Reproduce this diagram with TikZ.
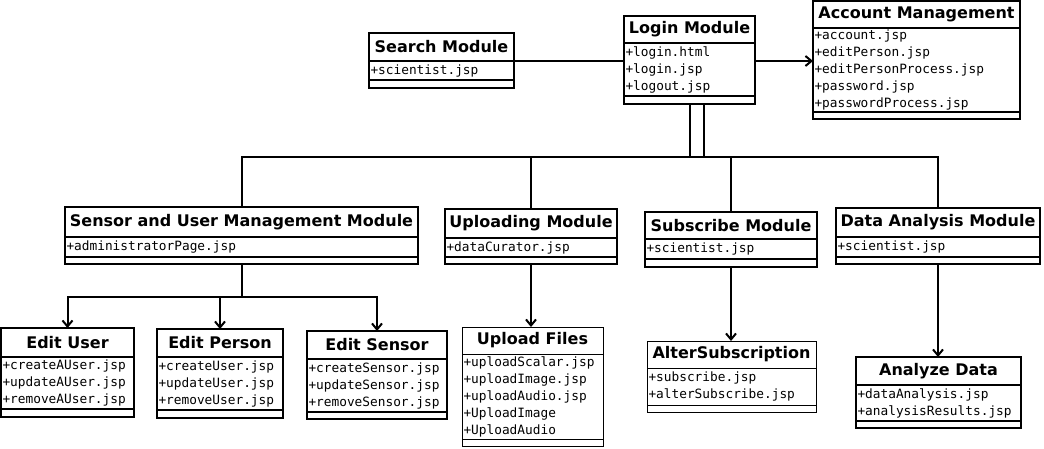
\documentclass[tikz,border=0pt]{standalone}
\usepackage{fontspec}
\setmainfont{DejaVu Sans}
\setmonofont{DejaVu Sans Mono}
\usepackage{tikz}
\usetikzlibrary{arrows.meta,positioning,calc}
\tikzset{
  classname/.style={draw, line width=2.2pt, inner sep=0pt, outer sep=0pt, anchor=north west,
    minimum height=28pt, font=\bfseries\fontsize{16}{18}\selectfont},
  classattr/.style={draw, line width=2.2pt, inner xsep=1.5pt, inner ysep=0pt, outer sep=0pt,
    anchor=north, align=left, font=\ttfamily\fontsize{12.8}{17}\selectfont},
  classend/.style={draw, line width=2.2pt, inner sep=0pt, outer sep=0pt, anchor=north, minimum height=7pt},
  thinclass/.style={line width=1pt},
  link/.style={line width=2pt},
  arrowlink/.style={-{Straight Barb[length=6pt,width=10pt]}, line width=2pt}
}
\begin{document}
\begin{tikzpicture}[x=1pt,y=-1pt]
\useasboundingbox (0,0) rectangle (1044,448);

% Top row
\node[classname, minimum width=145pt] (search) at (369,33) {Search Module};
\node[classattr, text width=142pt, minimum height=19pt, below=0pt of search] (searchattr) {+scientist.jsp};
\node[classend, minimum width=145pt, minimum height=8pt, below=0pt of searchattr] (searchend) {};

\node[classname, minimum width=131pt, minimum height=27pt] (login) at (624,16) {Login Module};
\node[classattr, text width=128pt, minimum height=53pt, below=0pt of login] (loginattr) {+login.html\\+login.jsp\\+logout.jsp};
\node[classend, minimum width=131pt, minimum height=8pt, below=0pt of loginattr] (loginend) {};

\node[classname, minimum width=207pt, minimum height=27pt] (account) at (813,1) {Account Management};
\node[classattr, text width=204pt, minimum height=84pt, below=0pt of account] (accountattr) {+account.jsp\\+editPerson.jsp\\+editPersonProcess.jsp\\+password.jsp\\+passwordProcess.jsp};
\node[classend, minimum width=207pt, below=0pt of accountattr] (accountend) {};

% Module row
\node[classname, minimum width=353pt, minimum height=30pt] (sensor) at (65,207) {Sensor and User Management Module};
\node[classattr, text width=350pt, minimum height=20pt, below=0pt of sensor] (sensorattr) {+administratorPage.jsp};
\node[classend, minimum width=353pt, below=0pt of sensorattr] (sensorend) {};

\node[classname, minimum width=172pt, minimum height=29pt] (uploading) at (445,209) {Uploading Module};
\node[classattr, text width=169pt, minimum height=19pt, below=0pt of uploading] (uploadingattr) {+dataCurator.jsp};
\node[classend, minimum width=172pt, below=0pt of uploadingattr] (uploadingend) {};

\node[classname, minimum width=172pt, minimum height=27pt] (subscribe) at (645,212) {Subscribe Module};
\node[classattr, text width=169pt, minimum height=20pt, below=0pt of subscribe] (subscribeattr) {+scientist.jsp};
\node[classend, minimum width=172pt, minimum height=8pt, below=0pt of subscribeattr] (subscribeend) {};

\node[classname, minimum width=204pt, minimum height=29pt] (analysis) at (836,208) {Data Analysis Module};
\node[classattr, text width=201pt, minimum height=20pt, below=0pt of analysis] (analysisattr) {+scientist.jsp};
\node[classend, minimum width=204pt, below=0pt of analysisattr] (analysisend) {};

% Page row
\node[classname, minimum width=133pt, minimum height=29pt] (edituser) at (1,328) {Edit User};
\node[classattr, text width=130pt, minimum height=52pt, below=0pt of edituser] (edituserattr) {+createAUser.jsp\\+updateAUser.jsp\\+removeAUser.jsp};
\node[classend, minimum width=133pt, minimum height=8pt, below=0pt of edituserattr] (edituserend) {};

\node[classname, minimum width=126pt] (editperson) at (157,329) {Edit Person};
\node[classattr, text width=123pt, minimum height=53pt, below=0pt of editperson] (editpersonattr) {+createUser.jsp\\+updateUser.jsp\\+removeUser.jsp};
\node[classend, minimum width=126pt, minimum height=8pt, below=0pt of editpersonattr] (editpersonend) {};

\node[classname, minimum width=140pt] (editsensor) at (307,331) {Edit Sensor};
\node[classattr, text width=137pt, minimum height=53pt, below=0pt of editsensor] (editsensorattr) {+createSensor.jsp\\+updateSensor.jsp\\+removeSensor.jsp};
\node[classend, minimum width=140pt, below=0pt of editsensorattr] (editsensorend) {};

\node[classname, thinclass, minimum width=141pt, minimum height=27pt] (uploadfiles) at (462,327) {Upload Files};
\node[classattr, thinclass, text width=138pt, minimum height=85pt, below=0pt of uploadfiles] (uploadfilesattr) {+uploadScalar.jsp\\+uploadImage.jsp\\+uploadAudio.jsp\\+UploadImage\\+UploadAudio};
\node[classend, thinclass, minimum width=141pt, below=0pt of uploadfilesattr] (uploadfilesend) {};

\node[classname, thinclass, minimum width=169pt, minimum height=27pt] (altersub) at (647,341) {AlterSubscription};
\node[classattr, thinclass, text width=166pt, minimum height=37pt, below=0pt of altersub] (altersubattr) {+subscribe.jsp\\+alterSubscribe.jsp};
\node[classend, thinclass, minimum width=169pt, below=0pt of altersubattr] (altersubend) {};

\node[classname, minimum width=165pt] (analyze) at (856,357) {Analyze Data};
\node[classattr, text width=162pt, minimum height=36pt, below=0pt of analyze] (analyzeattr) {+dataAnalysis.jsp\\+analysisResults.jsp};
\node[classend, minimum width=165pt, below=0pt of analyzeattr] (analyzeend) {};

% Connections
\coordinate (forkl) at ($(loginend.south)+(0,53)$);
\coordinate (forkr) at ($(loginend.south)+(14,53)$);
\coordinate (sensorfork) at ($(sensorend.south)+(0,33)$);

\draw[link] (searchattr.north east) -- (searchattr.north east -| login.west);
\draw[arrowlink] (searchattr.north east -| loginattr.east) -- (searchattr.north east -| account.west);
\draw[link] (loginend.south) -- (forkl);
\draw[link] (forkr |- loginend.south) -- (forkr);
\draw[link] (sensor.north) |- (forkl) -- (forkr) -| (analysis.north);
\draw[link] (forkl) -| (uploading.north);
\draw[link] (forkr) -| (subscribe.north);
\draw[link] (sensorend.south) -- (sensorfork);
\draw[arrowlink] (sensorfork) -| (edituser.north);
\draw[arrowlink] (sensorfork) -| (editperson.north);
\draw[arrowlink] (sensorfork) -| (editsensor.north);
\draw[arrowlink] (uploadingend.south) -- (uploadingend.south |- uploadfiles.north);
\draw[arrowlink] (subscribeend.south) -- (subscribeend.south |- altersub.north);
\draw[arrowlink] (analysisend.south) -- (analysisend.south |- analyze.north);
\end{tikzpicture}
\end{document}
